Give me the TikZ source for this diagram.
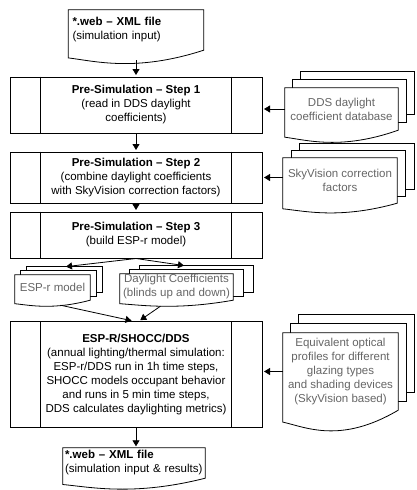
\documentclass[tikz,border=0pt]{standalone}
\usepackage{fontspec}
\setmainfont{Liberation Sans}
\usetikzlibrary{arrows.meta,calc}
\pgfdeclarelayer{background}
\pgfsetlayers{background,main}
\definecolor{docgray}{gray}{0.4}
% front page of a document shape, drawn from the anchors of node #1, wave amplitude #2
\newcommand\docfront[2]{%
  \path[docpage] (#1.north west) -- (#1.north east) -- (#1.south east)
    .. controls ($(#1.south west)!0.5!(#1.south east)+(0,20*#2)$) and ($(#1.south west)!0.2!(#1.south east)+(0,10*#2)$)
    .. ($(#1.south west)+(0,7*#2)$) -- cycle;}
% stack of pages behind node #1 (offset #3 right, #4 up per page), then the front page
\newcommand\docstack[4]{%
  \begin{pgfonlayer}{background}
    \foreach \k in {2,1} {
      \path[docpage] ($(#1.north west)+(\k*#3,-\k*#4)$) rectangle ($(#1.south east)+(\k*#3,-\k*#4)$);
    }
    \docfront{#1}{#2}
  \end{pgfonlayer}}
\newcommand\docsingle[2]{%
  \begin{pgfonlayer}{background}
    \docfront{#1}{#2}
  \end{pgfonlayer}}
\begin{document}
\begin{tikzpicture}[x=1pt,y=-1pt,
  font=\fontsize{11.5}{14}\selectfont,
  procbox/.style={draw, line width=1pt, minimum width=252pt, align=center, inner sep=0pt},
  boxline/.style={line width=1pt},
  docpage/.style={draw, fill=white, line width=0.8pt},
  docnode/.style={inner sep=0pt, align=center, text=docgray},
  filenode/.style={inner sep=0pt, align=left},
  arr/.style={line width=0.8pt, -{Triangle[width=7pt,length=6pt]}, shorten >=1.5pt}]
\useasboundingbox (0,0) rectangle (416,490);

% process boxes
\node[procbox, minimum height=56pt] (s1) at (136,105)
  {\textbf{Pre-Simulation – Step 1}\\(read in DDS daylight\\coefficients)};
\node[procbox, minimum height=51pt] (s2) at (136,177.5)
  {\textbf{Pre-Simulation – Step 2}\\(combine daylight coefficients\\with SkyVision correction factors)};
\node[procbox, minimum height=46pt] (s3) at (136,235)
  {\textbf{Pre-Simulation – Step 3}\\(build ESP-r model)};
\node[procbox, minimum height=106pt] (s4) at (136,374.5)
  {\textbf{ESP-R/SHOCC/DDS}\\(annual lighting/thermal simulation:\\ESP-r/DDS run in 1h time steps,\\SHOCC models occupant behavior\\and runs in 5 min time steps,\\DDS calculates daylighting metrics)};
\foreach \n in {s1,s2,s3,s4} {
  \draw[boxline] ([xshift=31pt]\n.north west) -- ([xshift=31pt]\n.south west);
  \draw[boxline] ([xshift=-31pt]\n.north east) -- ([xshift=-31pt]\n.south east);
}

% XML files
\node[filenode, text width=127pt, minimum width=135pt, minimum height=40pt] (top) at (136,30)
  {\textbf{*.web – XML file}\\(simulation input)};
\docsingle{top}{1.1}
\node[filenode, text width=138pt, minimum width=142pt, minimum height=30pt] (fin) at (134,463)
  {\textbf{*.web – XML file}\\\mbox{(simulation input \& results)}};
\docsingle{fin}{0.9}

% input documents
\node[docnode, minimum width=113pt, minimum height=42pt] (dds) at (341.5,109)
  {DDS daylight\\coefficient database};
\docstack{dds}{1}{8}{8}
\node[docnode, minimum width=114pt, minimum height=45pt] (sky) at (340,180.5)
  {SkyVision correction\\factors};
\docstack{sky}{0.8}{8.5}{7}
\node[docnode, minimum width=115pt, minimum height=77pt] (equ) at (340.5,371.5)
  {Equivalent optical\\profiles for different\\glazing types\\and shading devices\\(SkyVision based)};
\docstack{equ}{1.7}{8}{9}
\node[docnode, minimum width=75pt, minimum height=25pt] (esp) at (52.5,287.5)
  {ESP-r model};
\docstack{esp}{0.5}{6}{4}
\node[docnode, minimum width=113pt, minimum height=26pt] (day) at (176.5,287)
  {Daylight Coefficients\\(blinds up and down)};
\docstack{day}{0.5}{10}{4}

% connectors
\draw[arr] ($(top.south)+(0,10)$) -- (s1.north);
\draw[arr] (s1.south) -- (s2.north);
\draw[arr] (s2.south) -- (s3.north);
\draw[arr] (s3.south) -- ($(esp.north)+(12,-8)$);
\draw[arr] (s3.south) -- ($(day.north)+(9,-8)$);
\draw[arr] ($(esp.south)+(8,5)$) -- ($(s4.north)+(-3,0)$);
\draw[arr] ($(day.south)+(-16,6)$) -- ($(s4.north)+(3,0)$);
\draw[arr] (s4.south) -- (s4.south |- fin.north);
\draw[arr] (dds.west) -- (dds.west -| s1.east);
\draw[arr] (sky.west |- s2.east) -- (s2.east);
\draw[arr] (equ.west) -- (equ.west -| s4.east);
\end{tikzpicture}
\end{document}
